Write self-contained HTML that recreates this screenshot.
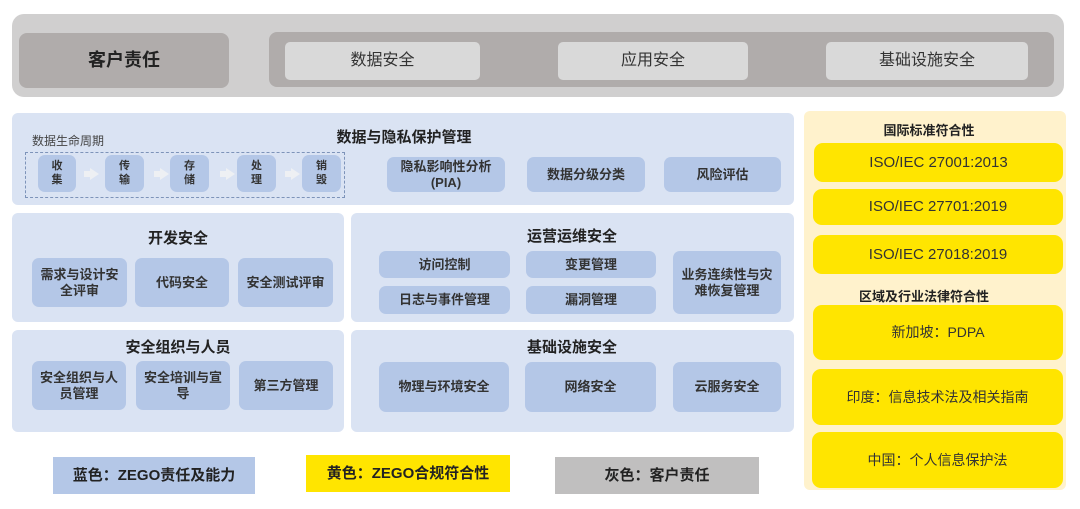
<!DOCTYPE html>
<html><head><meta charset="utf-8"><style>
body{margin:0;width:1080px;height:509px;background:#fff;position:relative;overflow:hidden;font-family:"Liberation Sans","Noto Sans CJK SC",sans-serif;color:#222}
.b{position:absolute;display:flex;align-items:center;justify-content:center;text-align:center;box-sizing:border-box;line-height:1.2}
.p{background:#dae3f3;border-radius:6px}
.i{background:#b4c7e7;border-radius:7px;font-size:13px;font-weight:bold;color:#333}
.t{position:absolute;font-weight:bold;font-size:15px;transform:translateX(-50%);white-space:nowrap}
.y{background:#ffe500;border-radius:9px;font-size:14px;color:#333}
.g{background:#d9d9d9;border-radius:5px;font-size:16px;color:#333}
.ar{position:absolute;width:0;height:0;border-left:9px solid #eef0f3;border-top:6px solid transparent;border-bottom:6px solid transparent}
.ar:before{content:"";position:absolute;left:-15px;top:-3px;width:7px;height:6px;background:#eef0f3}
</style></head><body>
<div class="b" style="left:12px;top:14px;width:1052px;height:83px;background:#d0cfcf;border-radius:12px"></div>
<div class="b" style="left:19px;top:33px;width:210px;height:55px;background:#b0acab;border-radius:8px;font-size:18px;font-weight:bold">客户责任</div>
<div class="b" style="left:269px;top:32px;width:785px;height:55px;background:#b0acab;border-radius:8px"></div>
<div class="b g" style="left:285px;top:42px;width:195px;height:38px">数据安全</div>
<div class="b g" style="left:558px;top:42px;width:190px;height:38px">应用安全</div>
<div class="b g" style="left:826px;top:42px;width:202px;height:38px">基础设施安全</div>

<div class="b p" style="left:12px;top:113px;width:782px;height:92px"></div>
<div class="t" style="left:404px;top:126px">数据与隐私保护管理</div>
<div style="position:absolute;left:32px;top:132px;font-size:12px;color:#444">数据生命周期</div>
<div style="position:absolute;left:25px;top:152px;width:320px;height:46px;border:1.5px dashed #7d93b9;box-sizing:border-box"></div>
<div class="b i" style="left:38px;top:155px;width:38px;height:37px;font-size:11px">收<br>集</div>
<div class="b i" style="left:105px;top:155px;width:39px;height:37px;font-size:11px">传<br>输</div>
<div class="b i" style="left:170px;top:155px;width:39px;height:37px;font-size:11px">存<br>储</div>
<div class="b i" style="left:237px;top:155px;width:39px;height:37px;font-size:11px">处<br>理</div>
<div class="b i" style="left:302px;top:155px;width:39px;height:37px;font-size:11px">销<br>毁</div>
<div class="ar" style="left:90px;top:168px"></div>
<div class="ar" style="left:160px;top:168px"></div>
<div class="ar" style="left:226px;top:168px"></div>
<div class="ar" style="left:291px;top:168px"></div>
<div class="b i" style="left:387px;top:157px;width:118px;height:35px">隐私影响性分析<br>(PIA)</div>
<div class="b i" style="left:527px;top:157px;width:118px;height:35px">数据分级分类</div>
<div class="b i" style="left:664px;top:157px;width:117px;height:35px">风险评估</div>

<div class="b p" style="left:12px;top:213px;width:332px;height:109px"></div>
<div class="t" style="left:178px;top:227px">开发安全</div>
<div class="b i" style="left:32px;top:258px;width:95px;height:49px">需求与设计安<br>全评审</div>
<div class="b i" style="left:135px;top:258px;width:94px;height:49px">代码安全</div>
<div class="b i" style="left:238px;top:258px;width:95px;height:49px">安全测试评审</div>

<div class="b p" style="left:351px;top:213px;width:443px;height:109px"></div>
<div class="t" style="left:572px;top:225px">运营运维安全</div>
<div class="b i" style="left:379px;top:251px;width:131px;height:27px">访问控制</div>
<div class="b i" style="left:526px;top:251px;width:130px;height:27px">变更管理</div>
<div class="b i" style="left:379px;top:286px;width:131px;height:28px">日志与事件管理</div>
<div class="b i" style="left:526px;top:286px;width:130px;height:28px">漏洞管理</div>
<div class="b i" style="left:673px;top:251px;width:108px;height:63px">业务连续性与灾<br>难恢复管理</div>

<div class="b p" style="left:12px;top:330px;width:332px;height:102px"></div>
<div class="t" style="left:178px;top:336px">安全组织与人员</div>
<div class="b i" style="left:32px;top:361px;width:94px;height:49px">安全组织与人<br>员管理</div>
<div class="b i" style="left:136px;top:361px;width:94px;height:49px">安全培训与宣<br>导</div>
<div class="b i" style="left:239px;top:361px;width:94px;height:49px">第三方管理</div>

<div class="b p" style="left:351px;top:330px;width:443px;height:102px"></div>
<div class="t" style="left:572px;top:336px">基础设施安全</div>
<div class="b i" style="left:379px;top:362px;width:130px;height:50px">物理与环境安全</div>
<div class="b i" style="left:525px;top:362px;width:131px;height:50px">网络安全</div>
<div class="b i" style="left:673px;top:362px;width:108px;height:50px">云服务安全</div>

<div class="b" style="left:53px;top:457px;width:202px;height:37px;background:#b4c7e7;font-size:15px;font-weight:bold">蓝色：ZEGO责任及能力</div>
<div class="b" style="left:306px;top:455px;width:204px;height:37px;background:#ffe500;font-size:15px;font-weight:bold">黄色：ZEGO合规符合性</div>
<div class="b" style="left:555px;top:457px;width:204px;height:37px;background:#c0bfbf;font-size:15px;font-weight:bold">灰色：客户责任</div>

<div class="b" style="left:804px;top:111px;width:262px;height:379px;background:#fff2cc;border-radius:6px"></div>
<div class="t" style="left:929px;top:120px;font-size:13px">国际标准符合性</div>
<div class="b y" style="left:814px;top:143px;width:249px;height:39px;font-size:15px">ISO/IEC 27001:2013</div>
<div class="b y" style="left:813px;top:189px;width:250px;height:36px;font-size:15px">ISO/IEC 27701:2019</div>
<div class="b y" style="left:813px;top:235px;width:250px;height:39px;font-size:15px">ISO/IEC 27018:2019</div>
<div class="t" style="left:924px;top:286px;font-size:13px">区域及行业法律符合性</div>
<div class="b y" style="left:813px;top:305px;width:250px;height:55px">新加坡：PDPA</div>
<div class="b y" style="left:812px;top:369px;width:251px;height:56px">印度：信息技术法及相关指南</div>
<div class="b y" style="left:812px;top:432px;width:251px;height:56px">中国：个人信息保护法</div>
</body></html>
